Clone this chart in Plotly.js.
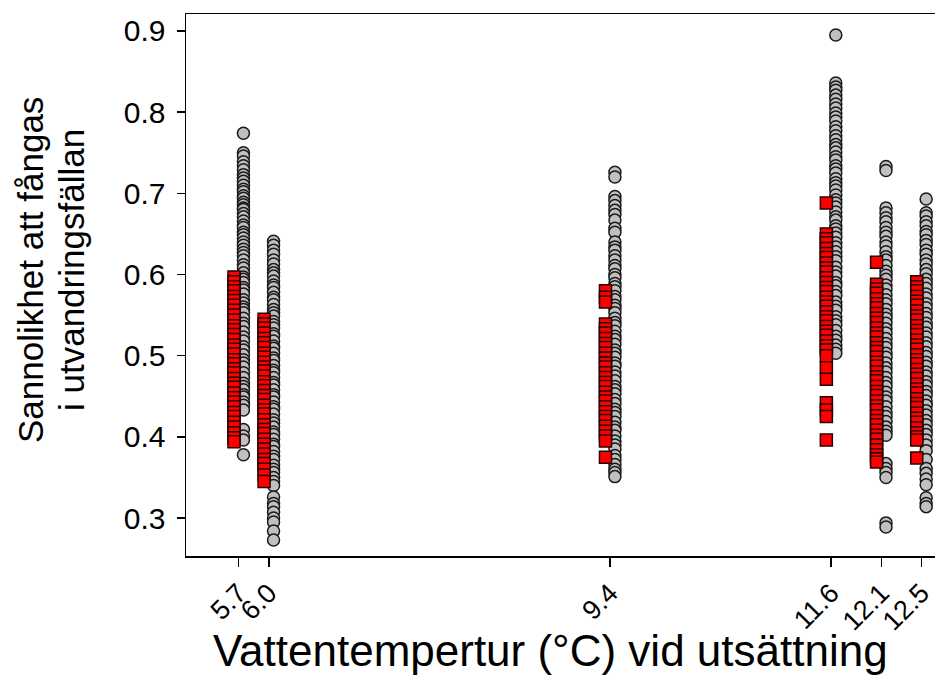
<!DOCTYPE html>
<html>
<head>
<meta charset="utf-8">
<script src="https://cdn.plot.ly/plotly-3.0.1.min.js"></script>
<style>html,body{margin:0;padding:0;overflow:hidden;background:#fff;}</style>
</head>
<body>
<div id="chart" style="width:935px;height:700px;"></div>
<script>
// Temperatures (°C) at release
const temps = [5.7, 6.0, 9.4, 11.6, 12.1, 12.5];
const tickLabels = ['5.7', '6.0', '9.4', '11.6', '12.1', '12.5'];
const yTicks = [0.3, 0.4, 0.5, 0.6, 0.7, 0.8, 0.9];
const yTickLabels = ['0.3', '0.4', '0.5', '0.6', '0.7', '0.8', '0.9'];

// Gray circles (one list per temperature)
const gray57 = [0.774, 0.750, 0.746, 0.739, 0.734, 0.729, 0.723, 0.719, 0.715, 0.710, 0.705, 0.702, 0.697, 0.694, 0.689, 0.686, 0.682, 0.680, 0.675, 0.671, 0.666, 0.661, 0.658, 0.652, 0.649, 0.645, 0.640, 0.636, 0.631, 0.627, 0.623, 0.618, 0.612, 0.608, 0.602, 0.597, 0.594, 0.590, 0.584, 0.581, 0.576, 0.569, 0.565, 0.560, 0.557, 0.553, 0.546, 0.540, 0.536, 0.529, 0.523, 0.518, 0.511, 0.507, 0.501, 0.495, 0.491, 0.486, 0.479, 0.473, 0.466, 0.462, 0.458, 0.452, 0.449, 0.443, 0.439, 0.433, 0.409, 0.401, 0.396, 0.378];
const gray60 = [0.641, 0.636, 0.630, 0.625, 0.618, 0.613, 0.606, 0.602, 0.598, 0.592, 0.587, 0.584, 0.578, 0.572, 0.569, 0.563, 0.557, 0.553, 0.549, 0.542, 0.538, 0.534, 0.527, 0.524, 0.518, 0.512, 0.509, 0.503, 0.497, 0.494, 0.488, 0.482, 0.479, 0.473, 0.467, 0.464, 0.458, 0.452, 0.449, 0.443, 0.437, 0.434, 0.428, 0.421, 0.417, 0.412, 0.406, 0.403, 0.397, 0.391, 0.388, 0.382, 0.376, 0.372, 0.365, 0.360, 0.356, 0.350, 0.345, 0.340, 0.326, 0.318, 0.314, 0.307, 0.300, 0.295, 0.284, 0.273];
const gray94 = [0.726, 0.720, 0.696, 0.691, 0.685, 0.679, 0.674, 0.667, 0.657, 0.652, 0.640, 0.634, 0.630, 0.623, 0.618, 0.611, 0.607, 0.600, 0.596, 0.589, 0.585, 0.580, 0.573, 0.569, 0.562, 0.558, 0.553, 0.546, 0.541, 0.537, 0.530, 0.524, 0.520, 0.514, 0.507, 0.503, 0.498, 0.491, 0.487, 0.480, 0.475, 0.469, 0.462, 0.458, 0.453, 0.446, 0.441, 0.434, 0.430, 0.425, 0.418, 0.412, 0.408, 0.401, 0.395, 0.390, 0.385, 0.377, 0.372, 0.366, 0.360, 0.356, 0.351];
const gray116 = [0.895, 0.836, 0.831, 0.827, 0.821, 0.816, 0.810, 0.805, 0.799, 0.794, 0.789, 0.782, 0.777, 0.771, 0.766, 0.760, 0.756, 0.751, 0.745, 0.741, 0.734, 0.730, 0.725, 0.718, 0.713, 0.709, 0.704, 0.698, 0.692, 0.688, 0.683, 0.677, 0.671, 0.667, 0.660, 0.656, 0.651, 0.646, 0.639, 0.634, 0.628, 0.622, 0.617, 0.609, 0.603, 0.598, 0.590, 0.586, 0.579, 0.574, 0.566, 0.561, 0.556, 0.548, 0.543, 0.538, 0.531, 0.524, 0.519, 0.513, 0.508, 0.503];
const gray121 = [0.733, 0.728, 0.682, 0.676, 0.670, 0.665, 0.658, 0.652, 0.647, 0.640, 0.635, 0.628, 0.622, 0.618, 0.611, 0.604, 0.599, 0.594, 0.587, 0.582, 0.575, 0.569, 0.564, 0.557, 0.551, 0.546, 0.540, 0.533, 0.528, 0.521, 0.515, 0.510, 0.503, 0.498, 0.491, 0.485, 0.480, 0.473, 0.467, 0.462, 0.455, 0.449, 0.444, 0.437, 0.430, 0.425, 0.419, 0.412, 0.407, 0.402, 0.367, 0.361, 0.356, 0.350, 0.294, 0.289];
const gray125 = [0.693, 0.676, 0.672, 0.665, 0.660, 0.653, 0.649, 0.642, 0.637, 0.630, 0.625, 0.618, 0.613, 0.606, 0.601, 0.594, 0.589, 0.583, 0.576, 0.571, 0.564, 0.559, 0.552, 0.547, 0.540, 0.535, 0.528, 0.523, 0.516, 0.511, 0.504, 0.499, 0.492, 0.487, 0.480, 0.475, 0.468, 0.463, 0.456, 0.451, 0.444, 0.439, 0.432, 0.427, 0.420, 0.415, 0.408, 0.403, 0.396, 0.390, 0.383, 0.372, 0.361, 0.355, 0.348, 0.341, 0.325, 0.318, 0.314];

// Red squares (one list per temperature)
const red57 = [0.597, 0.591, 0.585, 0.580, 0.573, 0.568, 0.562, 0.556, 0.550, 0.544, 0.537, 0.532, 0.526, 0.520, 0.513, 0.508, 0.502, 0.495, 0.490, 0.484, 0.479, 0.472, 0.466, 0.461, 0.454, 0.448, 0.443, 0.437, 0.430, 0.425, 0.418, 0.412, 0.405, 0.399, 0.394];
const red60 = [0.545, 0.539, 0.534, 0.528, 0.521, 0.516, 0.510, 0.503, 0.498, 0.492, 0.486, 0.481, 0.475, 0.468, 0.463, 0.457, 0.451, 0.446, 0.439, 0.433, 0.428, 0.421, 0.415, 0.409, 0.404, 0.397, 0.391, 0.385, 0.379, 0.372, 0.367, 0.360, 0.353, 0.345];
const red94 = [0.580, 0.572, 0.566, 0.539, 0.533, 0.528, 0.521, 0.515, 0.510, 0.503, 0.497, 0.491, 0.486, 0.479, 0.473, 0.467, 0.462, 0.455, 0.449, 0.444, 0.437, 0.431, 0.425, 0.420, 0.413, 0.407, 0.401, 0.395, 0.375];
const red116 = [0.688, 0.650, 0.644, 0.639, 0.632, 0.626, 0.621, 0.614, 0.608, 0.603, 0.596, 0.590, 0.584, 0.579, 0.572, 0.566, 0.561, 0.554, 0.548, 0.543, 0.536, 0.530, 0.525, 0.518, 0.512, 0.507, 0.500, 0.485, 0.471, 0.442, 0.433, 0.425, 0.396];
const red121 = [0.615, 0.588, 0.582, 0.577, 0.570, 0.564, 0.559, 0.552, 0.546, 0.541, 0.534, 0.528, 0.523, 0.516, 0.510, 0.505, 0.498, 0.492, 0.487, 0.480, 0.474, 0.469, 0.462, 0.456, 0.451, 0.444, 0.438, 0.433, 0.426, 0.420, 0.415, 0.408, 0.402, 0.397, 0.390, 0.384, 0.378, 0.373, 0.369];
const red125 = [0.591, 0.585, 0.580, 0.573, 0.567, 0.562, 0.555, 0.549, 0.544, 0.537, 0.531, 0.526, 0.519, 0.513, 0.508, 0.501, 0.495, 0.490, 0.483, 0.477, 0.472, 0.465, 0.459, 0.454, 0.447, 0.441, 0.436, 0.429, 0.423, 0.418, 0.411, 0.405, 0.400, 0.396, 0.374];

const grayGroups = [gray57, gray60, gray94, gray116, gray121, gray125];
const redGroups = [red57, red60, red94, red116, red121, red125];

const FONT = 'Liberation Sans, Arial, sans-serif';
const grayShift = 0.047, redShift = -0.047;

function flatten(groups, shift) {
  const xs = [], ys = [];
  groups.forEach((g, i) => g.forEach(v => { xs.push(temps[i] + shift); ys.push(v); }));
  return {xs, ys};
}
const G = flatten(grayGroups, grayShift);
const R = flatten(redGroups, redShift);

const traces = [
  {type: 'scatter', mode: 'markers', x: G.xs, y: G.ys, hoverinfo: 'skip',
   marker: {symbol: 'circle', size: 12, color: '#c0c0c0', line: {color: '#1a1a1a', width: 1.5}}},
  {type: 'scatter', mode: 'markers', x: R.xs, y: R.ys, hoverinfo: 'skip',
   marker: {symbol: 'square', size: 12, color: '#ff0000', line: {color: '#2a0000', width: 1.5}}}
];

const layout = {
  width: 935, height: 700,
  margin: {l: 186, r: 0, t: 14, b: 144},
  paper_bgcolor: '#fff', plot_bgcolor: '#fff',
  showlegend: false,
  font: {family: FONT, color: '#000'},
  xaxis: {
    range: [5.175, 12.635], showgrid: false, zeroline: false,
    showline: true, linecolor: '#000', linewidth: 1.5, mirror: true,
    tickmode: 'array', tickvals: temps, ticktext: tickLabels,
    ticks: 'outside', ticklen: 9, tickwidth: 1.5, tickcolor: '#000',
    tickangle: -45, ticklabeloverflow: 'allow',
    tickfont: {family: FONT, size: 27, color: '#000'}
  },
  yaxis: {
    range: [0.2532, 0.9209], showgrid: false, zeroline: false,
    showline: true, linecolor: '#000', linewidth: 1.5, mirror: false,
    tickmode: 'array', tickvals: yTicks, ticktext: yTickLabels,
    ticks: 'outside', ticklen: 8, tickwidth: 1.5, tickcolor: '#000',
    ticklabelstandoff: 5,
    tickfont: {family: FONT, size: 30, color: '#000'}
  },
  annotations: [
    {text: 'Sannolikhet att fångas', xref: 'paper', yref: 'paper',
     x: (30 - 186) / 749, y: (556 - 270) / 542, xanchor: 'center', yanchor: 'middle',
     textangle: -90, showarrow: false, font: {family: FONT, size: 35, color: '#000'}},
    {text: 'i utvandringsfällan', xref: 'paper', yref: 'paper',
     x: (71 - 186) / 749, y: (556 - 270) / 542, xanchor: 'center', yanchor: 'middle',
     textangle: -90, showarrow: false, font: {family: FONT, size: 35, color: '#000'}},
    {text: 'Vattentempertur (°C) vid utsättning', xref: 'paper', yref: 'paper',
     x: (550 - 186) / 749, y: (556 - 650) / 542, xanchor: 'center', yanchor: 'middle',
     showarrow: false, font: {family: FONT, size: 44, color: '#000'}}
  ]
};

Plotly.newPlot('chart', traces, layout, {displayModeBar: false, staticPlot: true});
</script>
</body>
</html>
